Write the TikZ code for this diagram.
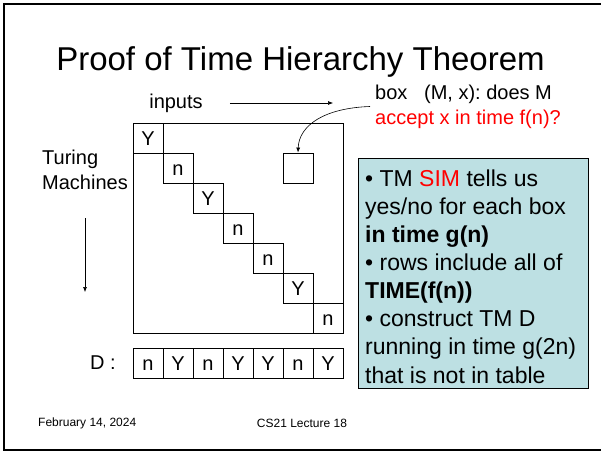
\documentclass[tikz,border=0pt]{standalone}
\usepackage{fontspec}
\setmainfont{Liberation Sans}
\usepackage{tikz}
\usetikzlibrary{positioning}
\usetikzlibrary{arrows.meta}
\usepackage{xcolor}
\definecolor{simblue}{HTML}{BDE0E3}
\newcommand{\cellfont}{\fontsize{20}{25}\selectfont}
\frenchspacing

\begin{document}
\begin{tikzpicture}[x=1pt,y=-1pt,>={Latex[length=5pt,width=4pt]},
  cell/.style={draw,line width=0.9pt,minimum size=30pt,inner sep=0pt,font=\cellfont,text height=14.3pt,text depth=0pt},
  lbl/.style={font=\cellfont,inner sep=0pt}]
  \useasboundingbox (0,0) rectangle (601,452);
  \clip (0,0) rectangle (601,452);
  % slide frame
  \draw[line width=2pt] (612,4) -- (4,4) -- (4,450) -- (612,450);
  \node[font=\fontsize{33}{40}\selectfont] (title) at (300.5,62) {Proof of Time Hierarchy Theorem};
  % table of machines and inputs
  \node[draw,line width=0.9pt,minimum size=210pt,inner sep=0pt,anchor=north west] (table) at (133,123) {};
  \foreach \v [count=\i] in {Y,n,Y,n,n,Y,n}
    \node[cell] (m\i) at (118+30*\i,108+30*\i) {\v};
  \node[cell] (q) at (298,168) {};
  % the diagonal flipped
  \node[lbl] (dlbl) at (103,363) {D :};
  \foreach \v [count=\i] in {n,Y,n,Y,Y,n,Y}
    \node[cell] (d\i) at (118+30*\i,363) {\v};
  % axes
  \node[lbl] (inp) at (176,103) {inputs};
  \coordinate (inpend) at (333,103);
  \draw[->,line width=0.6pt] ([xshift=27pt]inp.east) -- (inpend);
  \node[lbl,align=left,anchor=west] (tm) at (42,170) {Turing\\Machines};
  \draw[->,line width=0.6pt] (tm.south |- 0,218) -- (tm.south |- 0,292);
  % what one box means
  \node[lbl,align=left,anchor=west] (qtxt) at (375,106.5) {box\ \ \ (M, x): does M\\\textcolor{red}{accept x in time f(n)?}};
  \draw[->,line width=0.6pt] ([xshift=-5pt]qtxt.west) .. controls (325,108) and (299,125) .. (q.north);
  % the simulator
  \node[draw,fill=simblue,line width=0.9pt,minimum width=230pt,minimum height=230pt,inner sep=0pt,anchor=north west] (sim) at (358,158) {};
  \node[font=\fontsize{23}{28.1}\selectfont,align=left,anchor=north west,inner sep=0pt] (simtxt) at (365,169.5)
    {• TM \textcolor{red}{SIM} tells us\\
     yes/no for each box\\
     \textbf{in time g(n)}\\
     • rows include all of\\
     \textbf{TIME(f(n))}\\
     • construct TM D\\
     running in time g(2n)\\
     that is not in table};
  % footer
  \node[font=\fontsize{12}{14}\selectfont,inner sep=0pt,anchor=west] (date) at (38,423) {February 14, 2024};
  \node[font=\fontsize{12}{14}\selectfont,inner sep=0pt] (lect) at (302,423) {CS21 Lecture 18};
\end{tikzpicture}
\end{document}
